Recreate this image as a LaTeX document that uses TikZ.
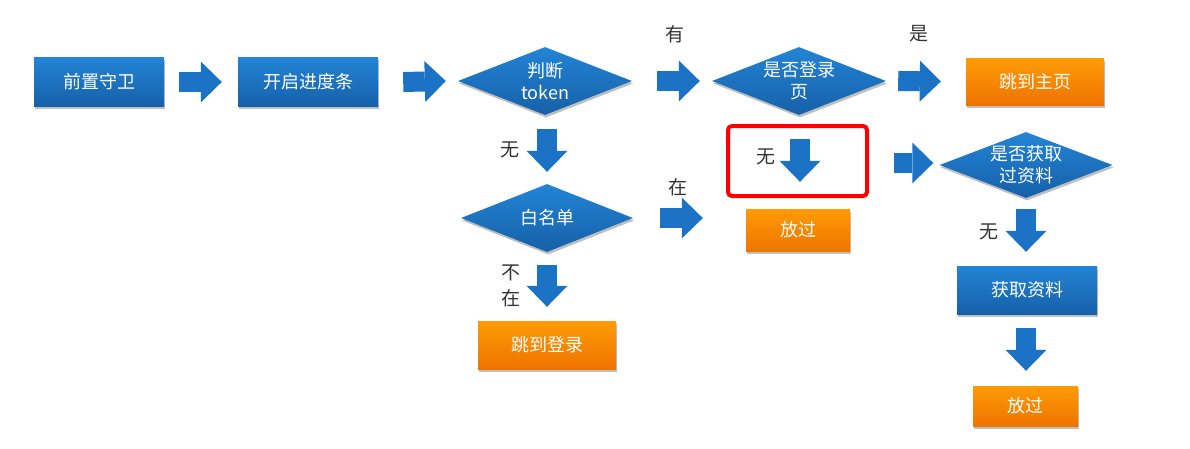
\documentclass[tikz,border=0pt]{standalone}
\usepackage{fontspec}
\usepackage{xcolor}
\usepackage{tikz}
\usetikzlibrary{arrows.meta,calc,shapes.geometric,shadows}
\newfontfamily\cjk{Noto Sans CJK SC}
\definecolor{boxtop}{HTML}{2384D6}
\definecolor{boxbot}{HTML}{1660A8}
\definecolor{orgtop}{HTML}{FF9B05}
\definecolor{orgbot}{HTML}{EE7400}
\definecolor{arrblue}{HTML}{1C72C4}
\definecolor{labelgray}{HTML}{333333}

\begin{document}
\begin{tikzpicture}[x=1pt, y=-1pt, font=\cjk\fontsize{18}{22}\selectfont,
    base/.style={text=white, inner sep=0pt,
      drop shadow={shadow xshift=1pt, shadow yshift=-2.5pt, opacity=0.25, fill=black}},
    bluebox/.style={base, rectangle, top color=boxtop, bottom color=boxbot,
      minimum width=130pt, minimum height=49pt},
    orangebox/.style={base, rectangle, top color=orgtop, bottom color=orgbot,
      minimum height=42pt},
    decision/.style={base, diamond, aspect=2.56, top color=boxtop, bottom color=boxbot,
      minimum width=174pt, minimum height=68pt, align=center, inner xsep=-8pt},
    blockarrow/.style={draw=arrblue, line width=20pt,
      -{Triangle[length=21pt, width=41pt, line width=0pt]}},
    redmark/.style={draw=red, line width=4pt, rounded corners=4pt,
      minimum width=139pt, minimum height=70pt},
    tag/.style={text=labelgray, inner sep=0pt, font=\cjk\fontsize{19}{26}\selectfont}]
  \useasboundingbox (0,0) rectangle (1190,448);

  % top row
  \node[bluebox] (guard) at (99,82) {前置守卫};
  \node[bluebox, minimum width=140pt] (progress) at (308,82) {开启进度条};
  \node[decision] (token) at (545,81) {判断\\token};
  \node[decision] (login) at (799,81) {是否登录\\页};
  \node[orangebox, minimum width=138pt, minimum height=47pt] (home) at (1035,81.5) {跳到主页};

  % lower rows
  \node[decision, minimum width=172pt] (white) at (547,218) {白名单};
  \node[orangebox, minimum width=138pt, minimum height=48pt] (tologin) at (547,345) {跳到登录};
  \node[redmark] (mark) at (797.5,161) {};
  \node[orangebox, minimum width=104pt] (pass1) at (798,230) {放过};
  \node[decision, minimum width=173pt, minimum height=66pt] (fetchq) at (1026,165) {是否获取\\过资料};
  \node[bluebox, minimum width=140pt, minimum height=48pt] (fetch) at (1027,290) {获取资料};
  \node[orangebox, minimum width=105pt, minimum height=40pt] (pass2) at (1025.5,406) {放过};

  % block arrows
  \draw[blockarrow] ($(guard.east)+(15,0)$) -- ($(progress.west)-(16,0)$);
  \draw[blockarrow] ($(progress.east)+(25,0)$) -- ($(token.west)-(12,0)$);
  \draw[blockarrow] ($(token.east)+(25,0)$) -- ($(login.west)-(12,0)$);
  \draw[blockarrow] ($(login.east)+(12,0)$) -- ($(home.west)-(25,0)$);
  \draw[blockarrow] ($(token.south)+(2,14)$) -- ($(white.north)+(0,-12)$);
  \draw[blockarrow] ($(white.south)+(0,13)$) -- ($(tologin.north)+(0,-14)$);
  \draw[blockarrow] ($(white.east)+(27,0)$) -- ($(pass1.west |- white.east)+(-43,0)$);
  \draw[blockarrow] ($(login.south)+(1,24)$) -- ($(pass1.north)+(2,-27)$);
  \draw[blockarrow] ($(mark.east)+(25,2)$) -- ($(fetchq.west)+(-6,-2)$);
  \draw[blockarrow] ($(fetchq.south)+(0,11)$) -- ($(fetch.north)+(-1,-14)$);
  \draw[blockarrow] ($(fetch.south)+(-1,14)$) -- ($(pass2.north)+(0.5,-15)$);

  % branch labels
  \node[tag] (lhas) at (675,34) {有};
  \node[tag] (lyes) at (919,34) {是};
  \node[tag] (lnone1) at (510,150) {无};
  \node[tag, align=center] (lnotin) at (511,286) {不\\在};
  \node[tag] (lin) at (678,187) {在};
  \node[tag] (lnone2) at (766,157) {无};
  \node[tag] (lnone3) at (989,232) {无};
\end{tikzpicture}
\end{document}
